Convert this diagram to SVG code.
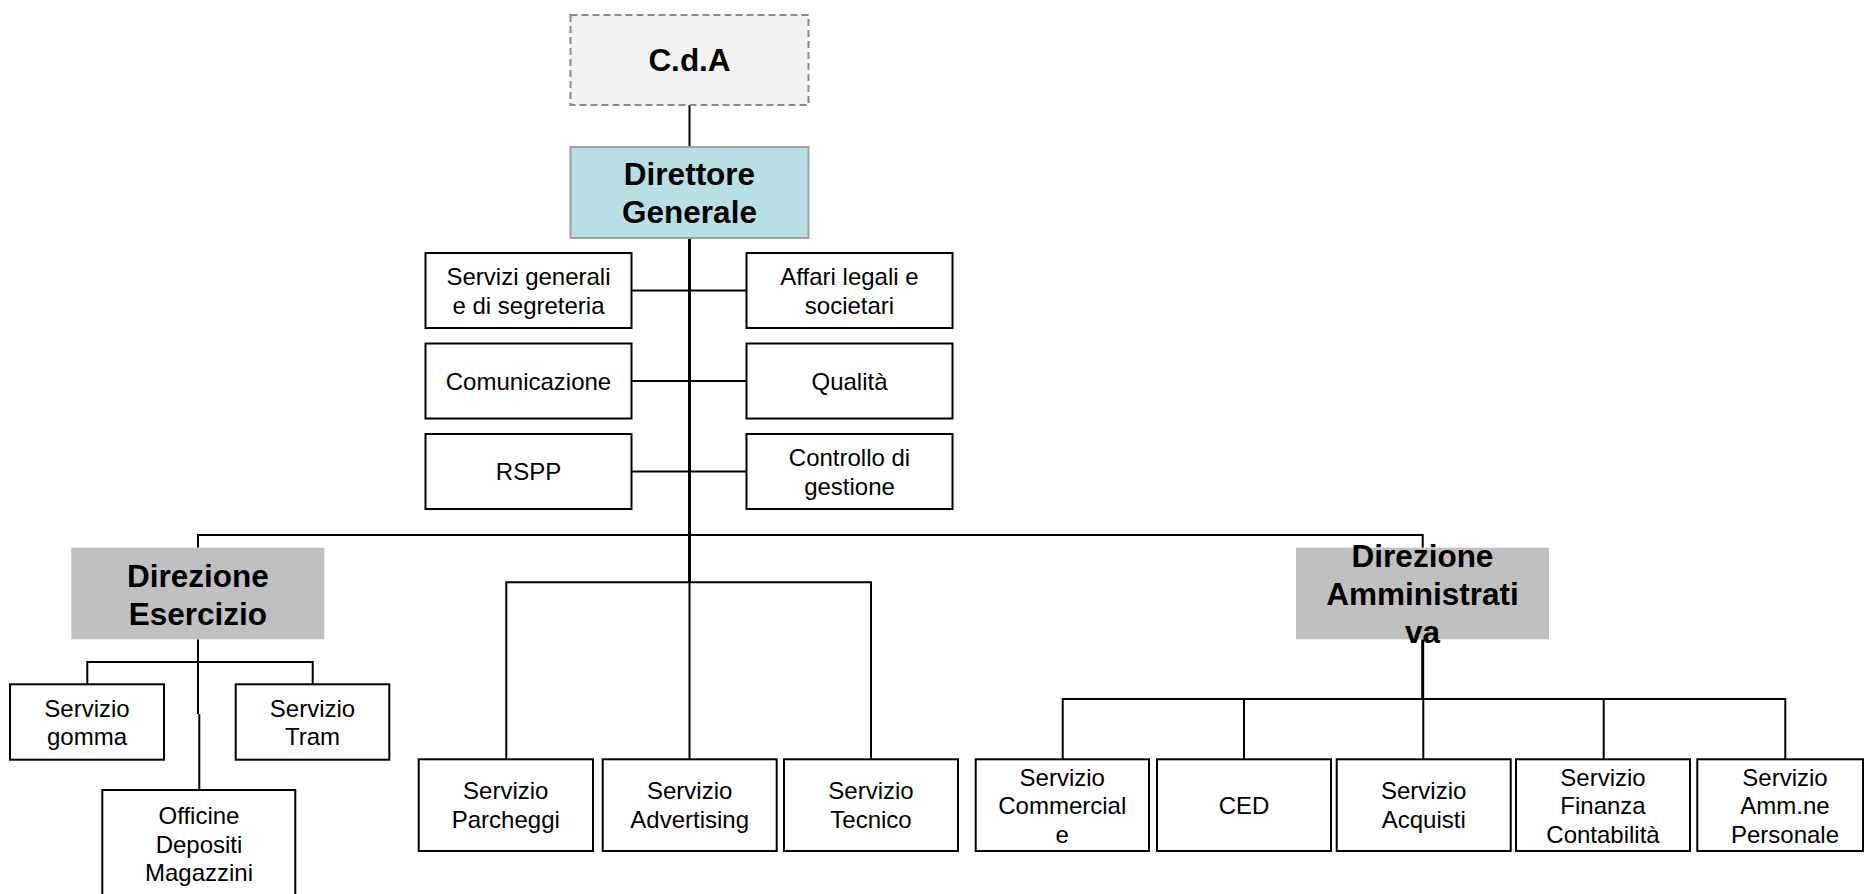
<svg xmlns="http://www.w3.org/2000/svg" width="1864" height="894" viewBox="0 0 1864 894">
<style>
  text { font-family: "Liberation Sans", Arial, sans-serif; fill: #000; text-anchor: middle; }
  .s { font-size: 24px; }
  .b { font-size: 31.5px; font-weight: bold; }
  .box { fill: #fff; stroke: #000; stroke-width: 2; }
  .dir { fill: #c0c0c0; stroke: none; }
  .ln { stroke: #000; stroke-width: 2; fill: none; }
  .thick { stroke: #000; stroke-width: 3; fill: none; }
</style>
<rect width="1864" height="894" fill="#fff"/>
<g id="connectors">
  <line class="ln" x1="689.5" y1="105" x2="689.5" y2="147"/>
  <line class="thick" x1="689.5" y1="237.5" x2="689.5" y2="582.5"/>
  <line class="ln" x1="689.5" y1="582.5" x2="689.5" y2="759.3"/>
  <line class="ln" x1="631.5" y1="290.5" x2="746.5" y2="290.5"/>
  <line class="ln" x1="631.5" y1="381" x2="746.5" y2="381"/>
  <line class="ln" x1="631.5" y1="471.5" x2="746.5" y2="471.5"/>
  <polyline class="ln" points="198,547.7 198,535 1422.7,535 1422.7,547.7"/>
  <line class="ln" x1="198" y1="639.3" x2="198" y2="714"/>
  <line class="ln" x1="199.3" y1="714" x2="199.3" y2="790"/>
  <polyline class="ln" points="87.3,684.3 87.3,662 312.7,662 312.7,684.3"/>
  <polyline class="ln" points="506.3,759.3 506.3,582.3 871,582.3 871,759.3"/>
  <line class="thick" x1="1422.7" y1="639.3" x2="1422.7" y2="699"/>
  <polyline class="ln" points="1062.7,759.3 1062.7,699 1785.3,699 1785.3,759.3"/>
  <line class="ln" x1="1244" y1="699" x2="1244" y2="759.3"/>
  <line class="ln" x1="1423.3" y1="699" x2="1423.3" y2="759.3"/>
  <line class="ln" x1="1603.7" y1="699" x2="1603.7" y2="759.3"/>
</g>
<g id="cda">
  <rect x="570.5" y="15" width="238" height="90" fill="#f2f2f2" stroke="#8a8a8a" stroke-width="2" stroke-dasharray="7,4"/>
  <text class="b" x="689.5" y="71">C.d.A</text>
</g>
<g id="dg">
  <rect x="570.5" y="147" width="238" height="91" fill="#b8e0e4" stroke="#a0a0a0" stroke-width="2"/>
  <text class="b" x="689.5" y="184.5">Direttore</text>
  <text class="b" x="689.5" y="222.5">Generale</text>
</g>
<g id="servizi-generali">
  <rect class="box" x="425.5" y="253" width="206" height="75"/>
  <text class="s" x="528.5" y="285">Servizi generali</text>
  <text class="s" x="528.5" y="313.5">e di segreteria</text>
</g>
<g id="affari-legali">
  <rect class="box" x="746.5" y="253" width="206" height="75"/>
  <text class="s" x="849.5" y="285">Affari legali e</text>
  <text class="s" x="849.5" y="313.5">societari</text>
</g>
<g id="comunicazione">
  <rect class="box" x="425.5" y="343.5" width="206" height="75"/>
  <text class="s" x="528.5" y="389.5">Comunicazione</text>
</g>
<g id="qualita">
  <rect class="box" x="746.5" y="343.5" width="206" height="75"/>
  <text class="s" x="849.5" y="389.5">Qualità</text>
</g>
<g id="rspp">
  <rect class="box" x="425.5" y="434" width="206" height="75"/>
  <text class="s" x="528.5" y="480">RSPP</text>
</g>
<g id="controllo">
  <rect class="box" x="746.5" y="434" width="206" height="75"/>
  <text class="s" x="849.5" y="466">Controllo di</text>
  <text class="s" x="849.5" y="494.5">gestione</text>
</g>
<g id="dir-esercizio">
  <rect class="dir" x="71.3" y="547.7" width="253" height="91.6"/>
  <text class="b" x="197.8" y="586.5">Direzione</text>
  <text class="b" x="197.8" y="624.5">Esercizio</text>
</g>
<g id="dir-amministrativa">
  <rect class="dir" x="1296" y="547.7" width="253" height="91.6"/>
  <text class="b" x="1422.5" y="566.5">Direzione</text>
  <text class="b" x="1422.5" y="604.5">Amministrati</text>
  <text class="b" x="1422.5" y="642.5">va</text>
</g>
<g id="servizio-gomma">
  <rect class="box" x="10" y="684.3" width="154" height="75.4"/>
  <text class="s" x="87" y="716.5">Servizio</text>
  <text class="s" x="87" y="745">gomma</text>
</g>
<g id="servizio-tram">
  <rect class="box" x="235.7" y="684.3" width="153.6" height="75.4"/>
  <text class="s" x="312.5" y="716.5">Servizio</text>
  <text class="s" x="312.5" y="745">Tram</text>
</g>
<g id="officine">
  <rect class="box" x="102.3" y="790" width="193" height="120"/>
  <text class="s" x="199" y="824.3">Officine</text>
  <text class="s" x="199" y="852.8">Depositi</text>
  <text class="s" x="199" y="881.3">Magazzini</text>
</g>
<g id="parcheggi">
  <rect class="box" x="418.7" y="759.3" width="174.3" height="91.7"/>
  <text class="s" x="505.8" y="799.4">Servizio</text>
  <text class="s" x="505.8" y="827.9">Parcheggi</text>
</g>
<g id="advertising">
  <rect class="box" x="602.7" y="759.3" width="174" height="91.7"/>
  <text class="s" x="689.7" y="799.4">Servizio</text>
  <text class="s" x="689.7" y="827.9">Advertising</text>
</g>
<g id="tecnico">
  <rect class="box" x="784" y="759.3" width="174" height="91.7"/>
  <text class="s" x="871" y="799.4">Servizio</text>
  <text class="s" x="871" y="827.9">Tecnico</text>
</g>
<g id="commerciale">
  <rect class="box" x="975.7" y="759.3" width="173.3" height="91.7"/>
  <text class="s" x="1062.3" y="785.6">Servizio</text>
  <text class="s" x="1062.3" y="814.1">Commercial</text>
  <text class="s" x="1062.3" y="842.6">e</text>
</g>
<g id="ced">
  <rect class="box" x="1157" y="759.3" width="174" height="91.7"/>
  <text class="s" x="1244" y="813.6">CED</text>
</g>
<g id="acquisti">
  <rect class="box" x="1336.7" y="759.3" width="174" height="91.7"/>
  <text class="s" x="1423.7" y="799.4">Servizio</text>
  <text class="s" x="1423.7" y="827.9">Acquisti</text>
</g>
<g id="finanza">
  <rect class="box" x="1516" y="759.3" width="174" height="91.7"/>
  <text class="s" x="1603" y="785.6">Servizio</text>
  <text class="s" x="1603" y="814.1">Finanza</text>
  <text class="s" x="1603" y="842.6">Contabilità</text>
</g>
<g id="personale">
  <rect class="box" x="1697.3" y="759.3" width="165.7" height="91.7"/>
  <text class="s" x="1785" y="785.6">Servizio</text>
  <text class="s" x="1785" y="814.1">Amm.ne</text>
  <text class="s" x="1785" y="842.6">Personale</text>
</g>
</svg>
